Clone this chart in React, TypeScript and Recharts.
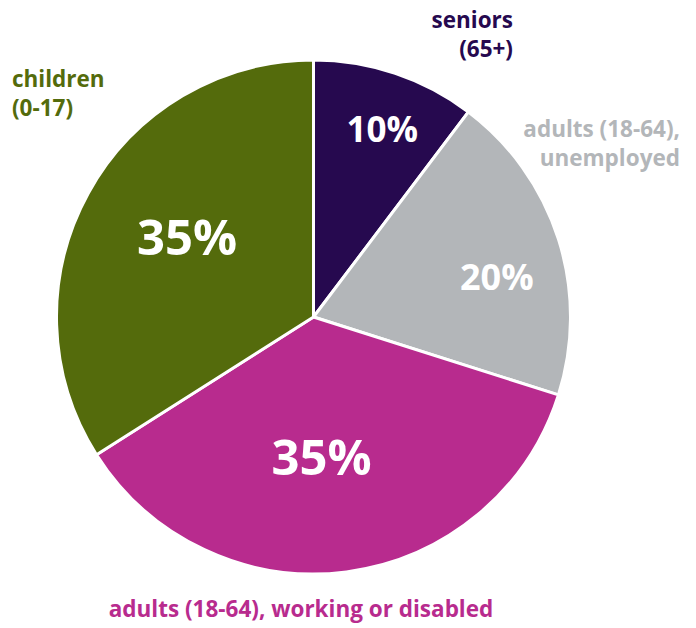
import { PieChart, Pie, Cell } from 'recharts';

const groups = ['seniors (65+)', 'adults (18-64), unemployed', 'adults (18-64), working or disabled', 'children (0-17)'];
// slice sizes as drawn (measured from the arc angles) and the printed labels
const shares = [10.3, 19.6, 36.1, 34.0];
const shareLabels = ['10%', '20%', '35%', '35%'];
const labelLines = [['seniors', '(65+)'], ['adults (18-64),', 'unemployed'], ['adults (18-64), working or disabled'], ['children', '(0-17)']];

const colors = ['#26094f', '#b3b6b9', '#b82b8e', '#546b0c'];

// where each slice's number and name sit
const inner = [
  { r: 0.78, shift: -1.5, size: 35 },
  { r: 0.73, shift: -5.3, size: 36 },
  { r: 0.54, shift: -4, size: 49 },
  { r: 0.585, shift: -4, size: 49 },
];
const outer = [
  { x: 513, y: 19, anchor: 'end' },
  { x: 680, y: 128, anchor: 'end' },
  { x: 301, y: 608, anchor: 'middle' },
  { x: 12, y: 78, anchor: 'start' },
];

const data = groups.map((g, i) => ({ name: g, value: shares[i], label: shareLabels[i] }));
const FONT = '"Open Sans", sans-serif';
const RAD = Math.PI / 180;

const renderLabel = (props: any) => {
  const { cx, cy, midAngle, outerRadius, index } = props;
  const s = inner[index];
  const a = (midAngle + s.shift) * RAD;
  const x = cx + outerRadius * s.r * Math.cos(a);
  const y = cy - outerRadius * s.r * Math.sin(a);
  const o = outer[index];
  return (
    <g key={'lbl' + index}>
      <text x={x} y={y} fill="#fff" fontSize={s.size} fontWeight={700} fontFamily={FONT} textAnchor="middle" dominantBaseline="central">
        {data[index].label}
      </text>
      {labelLines[index].map((line, k) => (
        <text key={k} x={o.x} y={o.y + k * 29} fill={colors[index]} fontSize={22.5} fontWeight={700} fontFamily={FONT} textAnchor={o.anchor} dominantBaseline="central">
          {line}
        </text>
      ))}
    </g>
  );
};

export default function App() {
  return (
    <div style={{ position: 'absolute', left: 0, top: 0, background: '#fff' }}>
      <PieChart width={696} height={628} margin={{ top: 0, right: 0, bottom: 0, left: 0 }}>
        <Pie
          data={data}
          dataKey="value"
          nameKey="name"
          cx={313.5}
          cy={317}
          outerRadius={257}
          startAngle={90}
          endAngle={-270}
          stroke="#fff"
          strokeWidth={3}
          label={renderLabel}
          labelLine={false}
          isAnimationActive={false}
        >
          {data.map((d, i) => (
            <Cell key={d.name} fill={colors[i]} />
          ))}
        </Pie>
      </PieChart>
    </div>
  );
}
